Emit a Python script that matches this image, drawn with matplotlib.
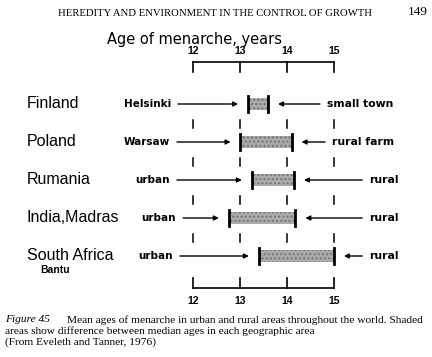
import matplotlib.pyplot as plt

countries = ['Finland', 'Poland', 'Rumania', 'India,Madras', 'South Africa']
urban_labels = ['Helsinki', 'Warsaw', 'urban', 'urban', 'urban']
rural_labels = ['small town', 'rural farm', 'rural', 'rural', 'rural']
urban_age = [13.17, 13.01, 13.25, 12.76, 13.40]
rural_age = [13.60, 14.10, 14.15, 14.18, 15.00]
# where each arrow starts, in years
urban_arrow_from = [11.68, 11.66, 11.66, 11.79, 11.72]
rural_arrow_from = [14.70, 14.81, 15.60, 15.60, 15.60]
ticks = [12, 13, 14, 15]

fig = plt.figure(figsize=(4.32, 3.57), dpi=100)
ax = fig.add_axes([0, 0, 1, 1])
# 47 px per year, tick 12 at x=193 px; rows 38 px apart starting at y=104 px
x0 = 12 - 193 / 47
ax.set_xlim(x0, 12 + (432 - 193) / 47)
ax.set_ylim((357 - 104) / 38, -104 / 38)
ax.axis('off')

sans = 'Liberation Sans'
wide = 'DejaVu Sans'
serif = 'Liberation Serif'
gap = 0.21

# top and bottom scale brackets
ax.plot([12, 15], [-1.10, -1.10], color='black', lw=1.2)
ax.plot([12, 15], [4.85, 4.85], color='black', lw=1.2)
for t in ticks:
    ax.plot([t, t], [-1.10, -0.85], color='black', lw=1.2)
    ax.plot([t, t], [4.85, 4.58], color='black', lw=1.2)
    ax.text(t, -1.25, str(t), ha='center', va='bottom', fontsize=7.5,
            fontweight='bold', family=sans)
    ax.text(t, 5.05, str(t), ha='center', va='top', fontsize=7.5,
            fontweight='bold', family=sans)
    for i in range(len(countries) - 1):
        ax.plot([t, t], [i + 0.42, i + 0.62], color='black', lw=1.1)

ax.text(x0 + 107 / 47, -1.70, 'Age of menarche, years', ha='left', va='center',
        fontsize=10.5, family=wide)

for i, c in enumerate(countries):
    lo, hi = urban_age[i], rural_age[i]
    ax.fill_between([lo, hi], i - 0.17, i + 0.17, facecolor='#ababab',
                    edgecolor='#737373', hatch='....', lw=0)
    ax.plot([lo, lo], [i - 0.22, i + 0.22], color='black', lw=2.0)
    ax.plot([hi, hi], [i - 0.22, i + 0.22], color='black', lw=2.0)
    ax.annotate('', xy=(lo - gap, i), xytext=(urban_arrow_from[i], i),
                arrowprops=dict(arrowstyle='-|>', color='black', lw=1.0,
                                mutation_scale=7, shrinkA=0, shrinkB=0))
    ax.annotate('', xy=(hi + gap, i), xytext=(rural_arrow_from[i], i),
                arrowprops=dict(arrowstyle='-|>', color='black', lw=1.0,
                                mutation_scale=7, shrinkA=0, shrinkB=0))
    ax.text(urban_arrow_from[i] - 0.15, i, urban_labels[i], ha='right',
            va='center', fontsize=7.5, fontweight='bold', family=wide)
    ax.text(rural_arrow_from[i] + 0.15, i, rural_labels[i], ha='left',
            va='center', fontsize=7.8, fontweight='bold', family=wide)
    ax.text(x0 + 27 / 47, i, c, ha='left', va='center', fontsize=11.5,
            family=sans)

ax.text(x0 + 40 / 47, 4.37, 'Bantu', ha='left', va='center', fontsize=7.5,
        fontweight='bold', family=sans)

# page header
fig.text(215 / 432, 1 - 13 / 357, 'HEREDITY AND ENVIRONMENT IN THE CONTROL OF GROWTH',
         ha='center', va='center', fontsize=7.7, family=serif)
fig.text(0.99, 1 - 12 / 357, '149', ha='right', va='center', fontsize=9.5,
         family=serif)

# caption
fig.text(0.012, 1 - 320 / 357, 'Figure 45', ha='left', va='center',
         fontsize=8.2, family=serif, style='italic')
fig.text(67 / 432, 1 - 320 / 357,
         'Mean ages of menarche in urban and rural areas throughout the world. Shaded',
         ha='left', va='center', fontsize=8.2, family=serif)
fig.text(0.012, 1 - 331 / 357,
         'areas show difference between median ages in each geographic area',
         ha='left', va='center', fontsize=8.2, family=serif)
fig.text(0.012, 1 - 342 / 357, '(From Eveleth and Tanner, 1976)',
         ha='left', va='center', fontsize=8.2, family=serif)

fig.savefig('out.png', dpi=100)
